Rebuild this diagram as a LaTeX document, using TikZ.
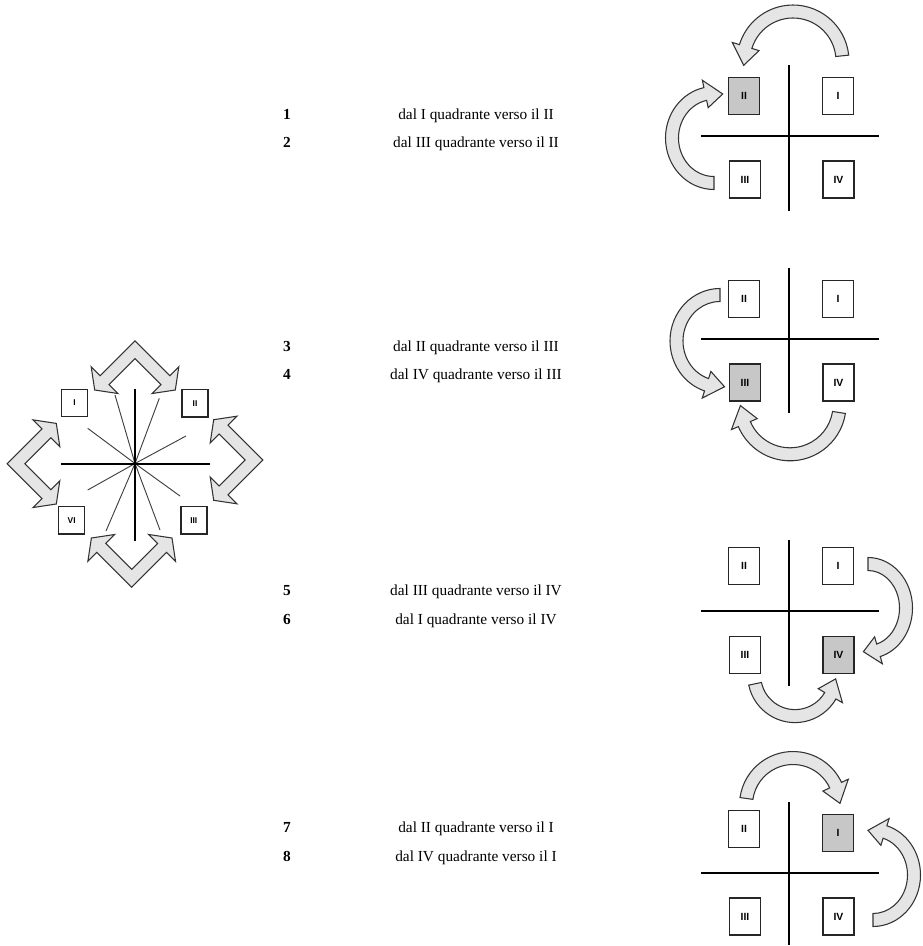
\documentclass[tikz,border=0pt]{standalone}
\usepackage{fontspec}
\setmainfont{Liberation Serif}
\newfontfamily\labelfont{Liberation Sans}
\usetikzlibrary{calc}

% curved block arrow: centre x, centre y, x radius, y radius, tail, neck, tip angle
\newcommand{\bandarrow}[7]{%
  \filldraw[arrowband]
    ({#1+(#3+6.5)*cos(#5)},{#2+(#4+6.5)*sin(#5)})
    arc[start angle=#5, end angle=#6, x radius=#3+6.5, y radius=#4+6.5]
    -- ({#1+(#3+14)*cos(#6)},{#2+(#4+14)*sin(#6)})
    -- ({#1+#3*cos(#7)},{#2+#4*sin(#7)})
    -- ({#1+(#3-14)*cos(#6)},{#2+(#4-14)*sin(#6)})
    -- ({#1+(#3-6.5)*cos(#6)},{#2+(#4-6.5)*sin(#6)})
    arc[start angle=#6, end angle=#5, x radius=#3-6.5, y radius=#4-6.5]
    -- cycle;}

\begin{document}
\begin{tikzpicture}[x=0.75pt, y=-0.75pt,
    axisline/.style={line width=1.5pt},
    rayline/.style={line width=0.7pt, black!75},
    qbox/.style={draw=black!85, line width=1.1pt, fill=white, minimum width=23.25pt,
      minimum height=27.5pt, inner sep=0pt, font=\labelfont\bfseries\fontsize{7.8}{8}\selectfont},
    sbox/.style={qbox, minimum width=19.5pt, minimum height=20.6pt,
      font=\labelfont\bfseries\fontsize{6.3}{7}\selectfont},
    chosen/.style={fill=black!22},
    arrowband/.style={draw=black!80, line width=0.8pt, fill=black!10, line join=miter},
    rownum/.style={anchor=base, font=\bfseries\fontsize{11.5}{14}\selectfont},
    rowtext/.style={anchor=base, font=\fontsize{11.5}{14}\selectfont}]
  \useasboundingbox (0,0) rectangle (923,946);

  % star of the quadrants
  \coordinate (O) at (135,463.5);
  \foreach \p in {(115,395), (159.3,398.3), (87.7,428.3), (186,436),
                  (87.7,490), (180,496), (106,531), (160,530)}
    \draw[rayline] (O) -- \p;
  \draw[axisline] (135,389) -- (135,541);
  \draw[axisline] (61,463.5) -- (210,463.5);
  \node[sbox] (sI) at (74.5,403) {I};
  \node[sbox] (sII) at (195,403.3) {II};
  \node[sbox] (sVI) at (71.7,520.3) {VI};
  \node[sbox] (sIII) at (193.8,520.3) {III};
  \foreach \ax/\ay/\rot in {135/349.7/0, 254/460/-90, 131.7/578.3/180, 16/463.7/90}
  {
    \begin{scope}[shift={(\ax,\ay)}, rotate=\rot]
      \filldraw[arrowband] (0,-8.9) -- (-34.85,25.95) -- (-43.83,16.97) -- (-40.3,40.3)
        -- (-16.97,43.83) -- (-25.95,34.85) -- (0,8.9) -- (25.95,34.85) -- (16.97,43.83)
        -- (40.3,40.3) -- (43.83,16.97) -- (34.85,25.95) -- cycle;
    \end{scope}
  }

  % rows
  \foreach \n/\y/\t in {1/115/{dal I quadrante verso il II},
                        2/143/{dal III quadrante verso il II},
                        3/347/{dal II quadrante verso il III},
                        4/375/{dal IV quadrante verso il III},
                        5/591/{dal III quadrante verso il IV},
                        6/620/{dal I quadrante verso il IV},
                        7/828/{dal II quadrante verso il I},
                        8/857/{dal IV quadrante verso il I}}
  {
    \node[rownum] (num\n) at (287,\y+4.5) {\n};
    \node[rowtext] (txt\n) at (476,\y+4.5) {\t};
  }

  % panel 1: towards II
  \begin{scope}[shift={(789,136)}]
    \draw[axisline] (0,-71) -- (0,75);
    \draw[axisline] (-88,0) -- (90,0);
    \node[qbox, chosen] (aII) at (-45,-40) {II};
    \node[qbox] (aI) at (49,-40) {I};
    \node[qbox] (aIII) at (-44,43.5) {III};
    \node[qbox] (aIV) at (49.5,43.5) {IV};
    \bandarrow{4}{-75}{49.5}{49.5}{-6}{-163}{-185}
    \bandarrow{-75}{2}{42}{45}{90}{258}{282}
  \end{scope}

  % panel 2: towards III
  \begin{scope}[shift={(789,339)}]
    \draw[axisline] (0,-71) -- (0,74);
    \draw[axisline] (-88,0) -- (90,0);
    \node[qbox] (bII) at (-45,-40) {II};
    \node[qbox] (bI) at (49,-40) {I};
    \node[qbox, chosen] (bIII) at (-44,43.5) {III};
    \node[qbox] (bIV) at (49.5,43.5) {IV};
    \bandarrow{-69}{2}{43.5}{46}{270}{108}{84}
    \bandarrow{1}{65.7}{49.6}{49.6}{9}{157}{179}
  \end{scope}

  % panel 3: towards IV
  \begin{scope}[shift={(789,611)}]
    \draw[axisline] (0,-71) -- (0,75);
    \draw[axisline] (-88,0) -- (90,0);
    \node[qbox] (cII) at (-45,-45) {II};
    \node[qbox] (cI) at (49,-45) {I};
    \node[qbox] (cIII) at (-44,44) {III};
    \node[qbox, chosen] (cIV) at (49.5,44) {IV};
    \bandarrow{79}{-3}{38}{44}{-90}{74}{97}
    \bandarrow{6}{64.3}{40.8}{40.8}{168}{30}{5}
  \end{scope}

  % panel 4: towards I
  \begin{scope}[shift={(789,873)}]
    \draw[axisline] (0,-71) -- (0,72);
    \draw[axisline] (-88,0) -- (90,0);
    \node[qbox] (dII) at (-45,-44) {II};
    \node[qbox, chosen] (dI) at (49,-40) {I};
    \node[qbox] (dIII) at (-44,43.5) {III};
    \node[qbox] (dIV) at (49.5,43.5) {IV};
    \bandarrow{4}{-68}{47}{47}{188}{335}{358}
    \bandarrow{84}{2}{41}{45}{90}{-73}{-97}
  \end{scope}
\end{tikzpicture}
\end{document}
